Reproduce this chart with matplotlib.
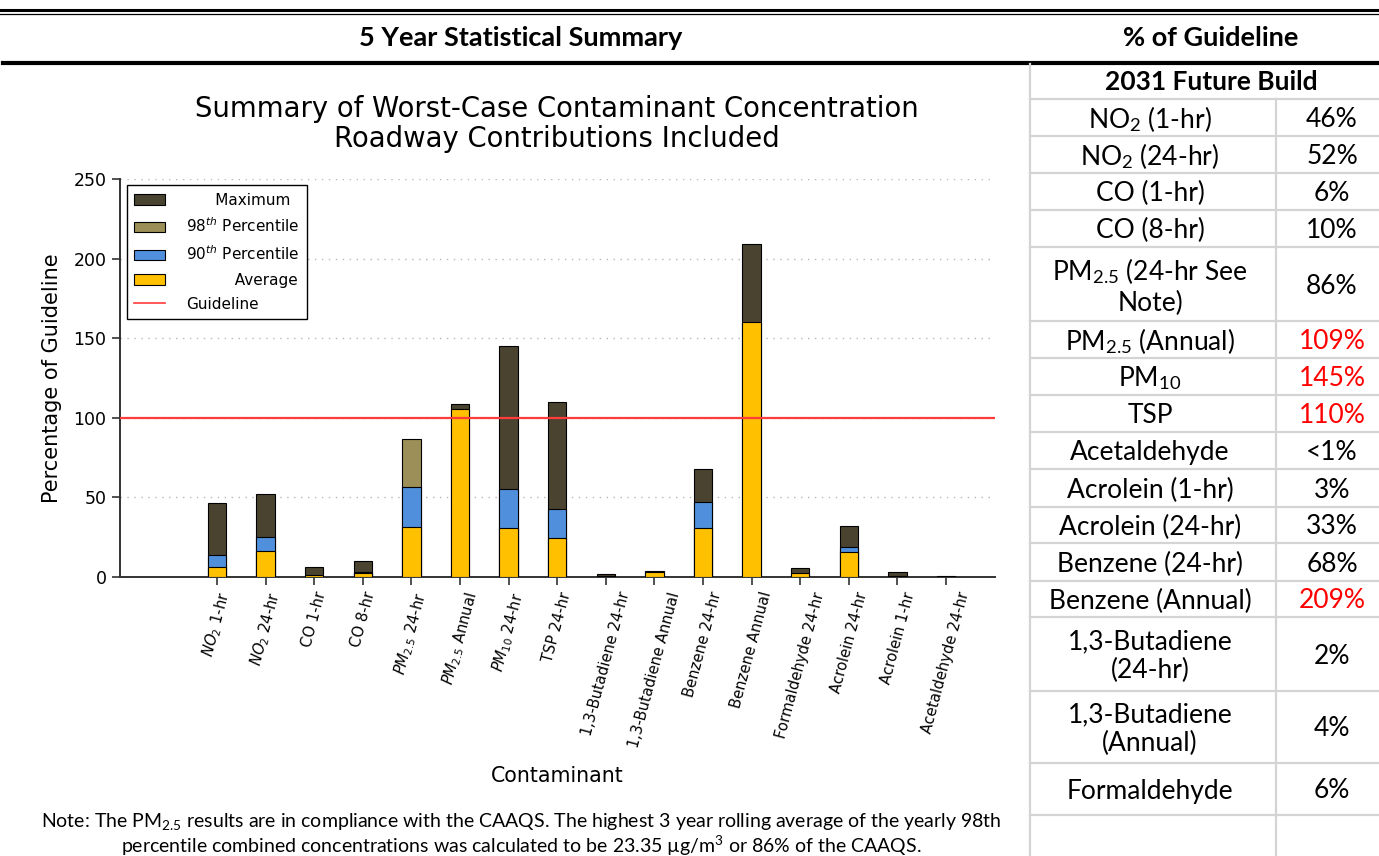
#!/usr/bin/env python3

import numpy as np
import matplotlib
matplotlib.use('Agg')
from matplotlib import pyplot as plt
from matplotlib.patches import Patch
from matplotlib.lines import Line2D

plt.rcParams['mathtext.rm'] = 'Lato'
plt.rcParams['mathtext.it'] = 'Lato:italic'
plt.rcParams['mathtext.bf'] = 'Lato:bold'

# chart data (% of guideline)
contaminants = ['$NO_2$ 1-hr', '$NO_2$ 24-hr', 'CO 1-hr', 'CO 8-hr', '$PM_{2.5}$ 24-hr',
                '$PM_{2.5}$ Annual', '$PM_{10}$ 24-hr', 'TSP 24-hr', '1,3-Butadiene 24-hr',
                '1,3-Butadiene Annual', 'Benzene 24-hr', 'Benzene Annual', 'Formaldehyde 24-hr',
                'Acrolein 24-hr', 'Acrolein 1-hr', 'Acetaldehyde 24-hr']
maximum = [46.7, 52.0, 6.0, 10.0, 0.0, 108.7, 145.0, 110.0, 1.9, 4.0, 67.6, 209.0, 5.9, 32.3, 3.0, 0.7]
pct98 = [0.0, 0.0, 0.0, 0.0, 86.5, 0.0, 0.0, 0.0, 0.0, 0.0, 0.0, 0.0, 0.0, 0.0, 0.0, 0.0]
pct90 = [13.8, 25.3, 0.0, 3.0, 56.3, 0.0, 55.3, 42.5, 0.0, 0.0, 47.3, 0.0, 0.0, 18.6, 0.0, 0.0]
average = [6.5, 16.5, 1.0, 2.7, 31.6, 105.3, 30.6, 24.3, 0.5, 3.0, 30.6, 160.2, 2.7, 15.9, 0.8, 0.3]
guideline = 100

# table data
table_labels = ['NO$_\\mathregular{2}$ (1-hr)', 'NO$_\\mathregular{2}$ (24-hr)', 'CO (1-hr)', 'CO (8-hr)',
                'PM$_\\mathregular{2.5}$ (24-hr See\nNote)', 'PM$_\\mathregular{2.5}$ (Annual)',
                'PM$_\\mathregular{10}$', 'TSP', 'Acetaldehyde', 'Acrolein (1-hr)', 'Acrolein (24-hr)',
                'Benzene (24-hr)', 'Benzene (Annual)', '1,3-Butadiene\n(24-hr)', '1,3-Butadiene\n(Annual)',
                'Formaldehyde', '']
table_values = ['46%', '52%', '6%', '10%', '86%', '109%', '145%', '110%', '<1%', '3%', '33%',
                '68%', '209%', '2%', '4%', '6%', '']
exceeds = [False, False, False, False, False, True, True, True, False, False, False,
           False, True, False, False, False, False]

W, H = 1379, 856
fig = plt.figure(figsize=(W / 100, H / 100), dpi=100)

def fx(x):
	return x / W

def fy(y):
	return 1 - y / H

# page frame lines
fig.add_artist(Line2D([0, 1], [fy(10), fy(10)], color='black', lw=2.2))
fig.add_artist(Line2D([0, 1], [fy(13.5), fy(13.5)], color='black', lw=0.9))
fig.add_artist(Line2D([fx(3), 1], [fy(63), fy(63)], color='black', lw=3.0))
fig.text(fx(521), fy(38), '5 Year Statistical Summary', ha='center', va='center',
         fontsize=19.5, fontweight='bold', family='Lato')
fig.text(fx(1211), fy(38), '% of Guideline', ha='center', va='center',
         fontsize=19.5, fontweight='bold', family='Lato')

# table on the right
grey = '#d4d4d4'
x_left, x_mid, x_right = 1030, 1276, 1379
row_edges = [99, 136, 173, 210, 247, 321, 357.5, 395, 432, 469, 507, 543, 581, 617, 691, 763, 815, 870]
fig.add_artist(Line2D([fx(x_left), fx(x_left)], [fy(64), 0], color=grey, lw=1.6))
fig.add_artist(Line2D([fx(x_mid), fx(x_mid)], [fy(99), 0], color=grey, lw=1.6))
fig.text(fx(1211), fy(82), '2031 Future Build', ha='center', va='center',
         fontsize=19, fontweight='bold', family='Lato')
for i, (lab, val) in enumerate(zip(table_labels, table_values)):
	top, bot = row_edges[i], row_edges[i + 1]
	fig.add_artist(Line2D([fx(x_left), fx(x_right)], [fy(top), fy(top)], color=grey, lw=1.6))
	yc = fy((top + bot) / 2 + 2) if i < len(table_labels) - 1 else fy(835)
	fig.text(fx(1150), yc, lab, ha='center', va='center', fontsize=19, family='Lato',
	         linespacing=1.2, math_fontfamily='custom')
	fig.text(fx(1332), yc, val, ha='center', va='center', fontsize=19, family='Lato',
	         color='#ff0000' if exceeds[i] else 'black')

# note
fig.text(fx(521), fy(821), 'Note: The PM$_\\mathregular{2.5}$ results are in compliance with the CAAQS. '
         'The highest 3 year rolling average of the yearly 98th', ha='center', va='center',
         fontsize=14, family='Lato', math_fontfamily='custom')
fig.text(fx(521), fy(846), 'percentile combined concentrations was calculated to be 23.35 µg/m$^\\mathregular{3}$ '
         'or 86% of the CAAQS.', ha='center', va='center', fontsize=14, family='Lato',
         math_fontfamily='custom')

# chart
ax_l, ax_r, ax_t, ax_b = 119.8, 994.6, 179, 577
ax = fig.add_axes([fx(ax_l), fy(ax_b), fx(ax_r - ax_l), (ax_b - ax_t) / H])

x = np.arange(len(contaminants))
w = 0.38
c_max, c_98, c_90, c_avg = '#4a4330', '#9c8f58', '#4f8fdc', '#ffc000'
ax.bar(x, maximum, w, color=c_max, edgecolor='black', lw=0.8, zorder=3)
ax.bar(x, pct98, w, color=c_98, edgecolor='black', lw=0.8, zorder=3)
ax.bar(x, pct90, w, color=c_90, edgecolor='black', lw=0.8, zorder=3)
ax.bar(x, average, w, color=c_avg, edgecolor='black', lw=0.8, zorder=3)
ax.axhline(guideline, color='#ff3b3b', lw=1.6, zorder=4)

ax.set_xlim(-2, 16)
ax.set_ylim(0, 250)
ax.set_yticks([0, 50, 100, 150, 200, 250])
ax.set_xticks(x)
ax.set_xticklabels(contaminants, rotation=75, fontsize=10.6)
ax.tick_params(axis='y', labelsize=12.5)
ax.tick_params(direction='out', length=6, width=1.2, color='#333333')
ax.yaxis.grid(True, linestyle=(0, (1, 4)), color='#b8b8b8', lw=1.0, zorder=0)
for s in ['top', 'right']:
	ax.spines[s].set_visible(False)
for s in ['left', 'bottom']:
	ax.spines[s].set_linewidth(1.4)
	ax.spines[s].set_color('#333333')
ax.set_ylabel('Percentage of Guideline', fontsize=15, labelpad=8)
ax.set_xlabel('Contaminant', fontsize=14.8, labelpad=12)
ax.set_title('Summary of Worst-Case Contaminant Concentration\nRoadway Contributions Included',
             fontsize=19.8, pad=23, linespacing=1.1)

handles = [Patch(facecolor=c_max, edgecolor='black', lw=0.8),
           Patch(facecolor=c_98, edgecolor='black', lw=0.8),
           Patch(facecolor=c_90, edgecolor='black', lw=0.8),
           Patch(facecolor=c_avg, edgecolor='black', lw=0.8),
           Line2D([], [], color='#ff3b3b', lw=1.2)]
labels = ['      Maximum', '98$^{th}$ Percentile', '90$^{th}$ Percentile', '          Average', 'Guideline']
leg = ax.legend(handles, labels, loc='upper left', bbox_to_anchor=(0.008, 0.985), borderaxespad=0,
                fontsize=11, fancybox=False, framealpha=1, edgecolor='black', handlelength=2.0,
                handletextpad=1.4, labelspacing=0.6, borderpad=0.5)
leg.get_frame().set_linewidth(1.0)

fig.savefig('out.png', dpi=100)
